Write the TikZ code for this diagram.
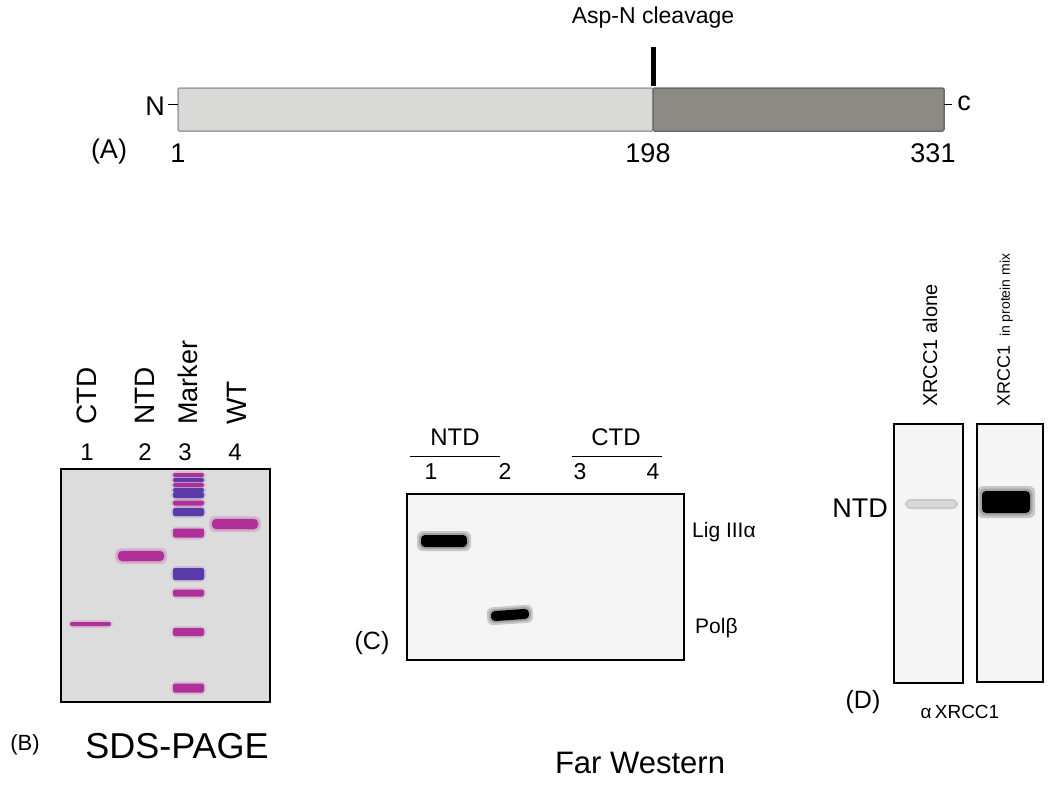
\documentclass[tikz,border=0pt]{standalone}
\usepackage{fontspec}
\setmainfont{Liberation Sans}
\usetikzlibrary{positioning}

\definecolor{ntdgray}{HTML}{D9D9D8}
\definecolor{ctdgray}{HTML}{8B8A85}
\definecolor{gelbg}{HTML}{DDDCDD}
\definecolor{stain}{HTML}{B0309A}
\definecolor{stainblue}{HTML}{5A3AA8}
\definecolor{blotbg}{HTML}{F5F5F5}
\newcommand{\pxsize}[1]{\fontsize{#1}{#1}\selectfont}

\begin{document}
\begin{tikzpicture}[x=1pt, y=-1pt,
    lbl/.style={inner sep=0pt, font=\pxsize{#1}},
    num/.style={inner sep=0pt, font=\pxsize{#1}, anchor=base},
    vlbl/.style={inner sep=0pt, font=\pxsize{#1}, rotate=90, anchor=west},
    gel/.style={draw=black, line width=2pt, fill=#1},
    band/.style={fill=#1, rounded corners=4pt},
    halo/.style={fill=#1, opacity=0.18, rounded corners=6pt}
]
    \useasboundingbox (0,0) rectangle (1050,785);
    \fill[white] (0,0) rectangle (1050,785);

    % (A) domain map
    \node[lbl=23] (asp) at (653,18) {Asp-N cleavage};
    \draw[line width=5pt] (653,47) -- (653,86);
    \draw[draw=gray!75, fill=ntdgray, line width=1.5pt, rounded corners=1.5pt] (178,88) rectangle (653,131);
    \draw[draw=gray!85!black, fill=ctdgray, line width=1.5pt, rounded corners=1.5pt] (653,88) rectangle (944,131);
    \node[lbl=27] (nterm) at (155,106) {N};
    \node[lbl=27] (cterm) at (964,103) {c};
    \draw[thick] (168,104) -- (178,104);
    \draw[thick] (944,104) -- (952,104);
    \node[lbl=27] (pa)  at (109,152) {(A)};
    \node[num=27] (p1)  at (178,162) {1};
    \node[num=27] (p198) at (648,162) {198};
    \node[num=27] (p331) at (933,162) {331};

    % (B) SDS-PAGE
    \node[vlbl=28] (bctd) at (87,425) {CTD};
    \node[vlbl=28] (bntd) at (145,425) {NTD};
    \node[vlbl=27] (bmk)  at (188,425) {Marker};
    \node[vlbl=28] (bwt)  at (237,425) {WT};
    \foreach \x/\n in {87/1, 145/2, 185/3, 235/4}
        \node[num=24] (bl\n) at (\x,460) {\n};
    \draw[gel=gelbg] (61,469) rectangle (270,702);
    \fill[halo=stain] (68,620) rectangle (113,628);
    \fill[band=stain, rounded corners=2pt] (70,622) rectangle (111,626);
    \foreach \s in {3,1.5} {
        \fill[halo=stain] (118-\s,551-\s) rectangle (164+\s,561+\s);
        \fill[halo=stain] (212-\s,519-\s) rectangle (258+\s,529+\s);
    }
    \fill[band=stain] (118,551) rectangle (164,561);
    \fill[band=stain] (212,519) rectangle (258,529);
    \foreach \y/\h/\c in {475/4/stain, 480/4/stainblue, 485/4/stain, 490/4/stainblue,
                          495/6/stainblue, 503/5/stain, 512/8/stainblue, 533/9/stain,
                          574/12/stainblue, 593/7/stain, 632/8/stain, 688/9/stain} {
        \fill[halo=\c] (171,\y-\h/2-2) rectangle (206,\y+\h/2+2);
        \fill[band=\c, rounded corners=2pt] (173,\y-\h/2) rectangle (204,\y+\h/2);
    }
    \node[lbl=22] (pb) at (25,745) {(B)};
    \node[lbl=36] (sds) at (177,746) {SDS-PAGE};

    % (C) Far Western blot
    \node[lbl=24] (cntd) at (455,437) {NTD};
    \node[lbl=24] (cctd) at (616,437) {CTD};
    \draw[thick] (410,456) -- (500,456);
    \draw[thick] (572,456) -- (662,456);
    \foreach \x/\n in {431/1, 505/2, 580/3, 653/4}
        \node[num=23] (cl\n) at (\x,479) {\n};
    \draw[gel=blotbg] (407,494) rectangle (684,660);
    \foreach \s in {4,2}
        \fill[halo=black] (421-\s,535-\s) rectangle (467+\s,547+\s);
    \fill[band=black] (421,535) rectangle (467,547);
    \begin{scope}[rotate around={4:(510,615)}]
        \foreach \s in {4,2}
            \fill[halo=black] (491-\s,610-\s) rectangle (529+\s,620+\s);
        \fill[band=black] (491,610) rectangle (529,620);
    \end{scope}
    \node[lbl=21, anchor=west] (lig) at (692,532) {Lig IIIα};
    \node[lbl=21, anchor=west] (polb) at (695,628) {Polβ};
    \node[lbl=25] (pc) at (372,643) {(C)};

    % (D) pull-down blots
    \node[vlbl=20] (dalone) at (930,407) {XRCC1 alone};
    \node[vlbl=18] (dmix)   at (1005,407) {XRCC1 \pxsize{14}\ in protein mix};
    \draw[gel=blotbg] (894,424) rectangle (963,683);
    \draw[gel=blotbg] (977,424) rectangle (1043,682);
    \fill[halo=black] (905,499) rectangle (958,509);
    \fill[band=gray!30, rounded corners=3pt] (907,501) rectangle (956,507);
    \foreach \s in {5,2.5}
        \fill[halo=black] (982-\s,491-\s) rectangle (1030+\s,513+\s);
    \fill[band=black] (982,491) rectangle (1030,513);
    \node[lbl=27] (dntd) at (860,508) {NTD};
    \node[lbl=25] (pd) at (863,702) {(D)};
    \node[lbl=19] (anti) at (960,712) {α\,XRCC1};

    \node[lbl=31] (far) at (640,763) {Far Western};
\end{tikzpicture}
\end{document}
